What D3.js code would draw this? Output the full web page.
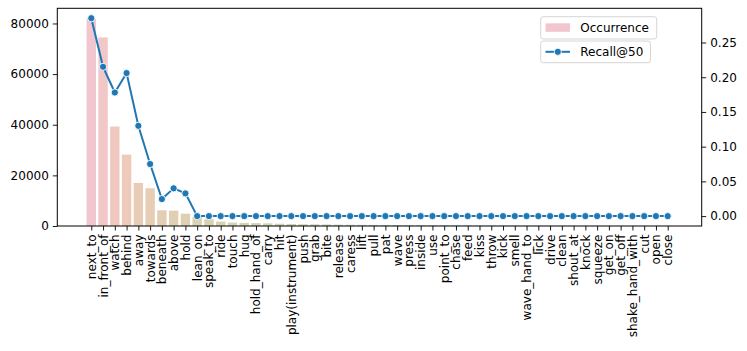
<!DOCTYPE html>
<html>
<head>
<meta charset="utf-8">
<script src="https://cdn.jsdelivr.net/npm/d3@7"></script>
<style>
  body { margin: 0; background: #fff; }
  text { font-family: "DejaVu Sans", sans-serif; }
</style>
</head>
<body>
<svg id="chart" width="747" height="351"></svg>
<script>
const categories = ["next_to","in_front_of","watch","behind","away","towards","beneath","above","hold","lean_on",
  "speak_to","ride","touch","hug","hold_hand_of","carry","hit","play(instrument)","push","grab",
  "bite","release","caress","lift","pull","pat","wave","press","inside","use",
  "point_to","chase","feed","kiss","throw","kick","smell","wave_hand_to","lick","drive",
  "clean","shout_at","knock","squeeze","get_on","get_off","shake_hand_with","cut","open","close"];
const occurrence = [81900,74500,39300,28200,17000,14900,6200,6050,4870,3600,
  2650,1750,1350,1250,1150,1050,900,800,700,650,
  600,550,500,460,430,400,370,340,310,290,
  270,250,230,210,190,170,150,140,130,120,
  110,100,90,80,70,60,50,40,30,20];
const recall = [0.285,0.215,0.178,0.206,0.130,0.075,0.0245,0.040,0.0327,0,
  0,0,0,0,0,0,0,0,0,0,
  0,0,0,0,0,0,0,0,0,0,
  0,0,0,0,0,0,0,0,0,0,
  0,0,0,0,0,0,0,0,0,0];
const leftTicks = [0,20000,40000,60000,80000];
const rightTicks = [0,0.05,0.10,0.15,0.20,0.25];

const svg = d3.select("#chart");
const L = 57.3, R = 701.7, T = 8.3, B = 226;
const n = categories.length;

const x = d3.scaleLinear().domain([-2.89, n - 1 + 2.89]).range([L, R]);
const maxOcc = d3.max(occurrence);
const y = d3.scaleLinear().domain([0, maxOcc * 1.05]).range([B, T]);
const maxR = d3.max(recall);
const y2 = d3.scaleLinear().domain([-0.05 * maxR, maxR * 1.05]).range([B, T]);

const hueScale = d3.scaleLinear().domain([0, 4, 8, 20, 49]).range([6, 62, 85, 130, 320]);
function barColor(i) {
  return d3.hcl(hueScale(i), 17, 84).formatHex();
}

// bars
svg.append("g").selectAll("rect").data(occurrence).join("rect")
  .attr("x", (d, i) => x(i - 0.4))
  .attr("width", x(0.8) - x(0))
  .attr("y", d => y(d))
  .attr("height", d => y(0) - y(d))
  .attr("fill", (d, i) => barColor(i));

// line
const line = d3.line().x((d, i) => x(i)).y(d => y2(d));
svg.append("path").datum(recall)
  .attr("d", line).attr("fill", "none")
  .attr("stroke", "#1f77b4").attr("stroke-width", 2);
svg.append("g").selectAll("circle").data(recall).join("circle")
  .attr("cx", (d, i) => x(i)).attr("cy", d => y2(d)).attr("r", 3.6)
  .attr("fill", "#1f77b4").attr("stroke", "#fff").attr("stroke-width", 0.9);

// axes
const fs = "12px";
const xAxis = d3.axisBottom(x).tickValues(d3.range(n)).tickFormat(i => categories[i]).tickSize(4.5).tickPadding(3);
const gx = svg.append("g").attr("transform", `translate(0,${B})`).call(xAxis);
gx.select(".domain").remove();
gx.selectAll("text").attr("font-size", fs).attr("fill", "#000")
  .attr("transform", "rotate(-90)").attr("text-anchor", "end")
  .attr("dy", "0.33em").attr("x", -8.5).attr("y", 0);

const yAxis = d3.axisLeft(y).tickValues(leftTicks).tickFormat(d3.format("d")).tickSize(4.5).tickPadding(4);
const gy = svg.append("g").attr("transform", `translate(${L},0)`).call(yAxis);
gy.select(".domain").remove();
gy.selectAll("text").attr("font-size", fs).attr("fill", "#000");

const y2Axis = d3.axisRight(y2).tickValues(rightTicks).tickFormat(d3.format(".2f")).tickSize(4.5).tickPadding(4);
const gy2 = svg.append("g").attr("transform", `translate(${R},0)`).call(y2Axis);
gy2.select(".domain").remove();
gy2.selectAll("text").attr("font-size", fs).attr("fill", "#000");

svg.selectAll(".tick line").attr("stroke", "#000").attr("stroke-width", 0.9);

// frame
svg.append("rect").attr("x", L).attr("y", T).attr("width", R - L).attr("height", B - T)
  .attr("fill", "none").attr("stroke", "#000").attr("stroke-width", 1);

// legends
const lg1 = svg.append("g");
lg1.append("rect").attr("x", 540.7).attr("y", 16.7).attr("width", 116).attr("height", 22.3).attr("rx", 2.5)
  .attr("fill", "#fff").attr("fill-opacity", 0.8).attr("stroke", "#d5d5d5");
lg1.append("rect").attr("x", 545.5).attr("y", 23.3).attr("width", 24.5).attr("height", 8.5).attr("fill", barColor(0));
lg1.append("text").attr("x", 580.3).attr("y", 27.6).attr("dy", "0.35em").attr("font-size", fs).text("Occurrence");

const lg2 = svg.append("g");
lg2.append("rect").attr("x", 540.7).attr("y", 41).attr("width", 109.8).attr("height", 21.7).attr("rx", 2.5)
  .attr("fill", "#fff").attr("fill-opacity", 0.8).attr("stroke", "#d5d5d5");
lg2.append("line").attr("x1", 545.5).attr("x2", 570).attr("y1", 51.8).attr("y2", 51.8)
  .attr("stroke", "#1f77b4").attr("stroke-width", 2);
lg2.append("circle").attr("cx", 557.8).attr("cy", 51.8).attr("r", 3.6)
  .attr("fill", "#1f77b4").attr("stroke", "#fff").attr("stroke-width", 0.9);
lg2.append("text").attr("x", 580.3).attr("y", 51.8).attr("dy", "0.35em").attr("font-size", fs).text("Recall@50");
</script>
</body>
</html>
